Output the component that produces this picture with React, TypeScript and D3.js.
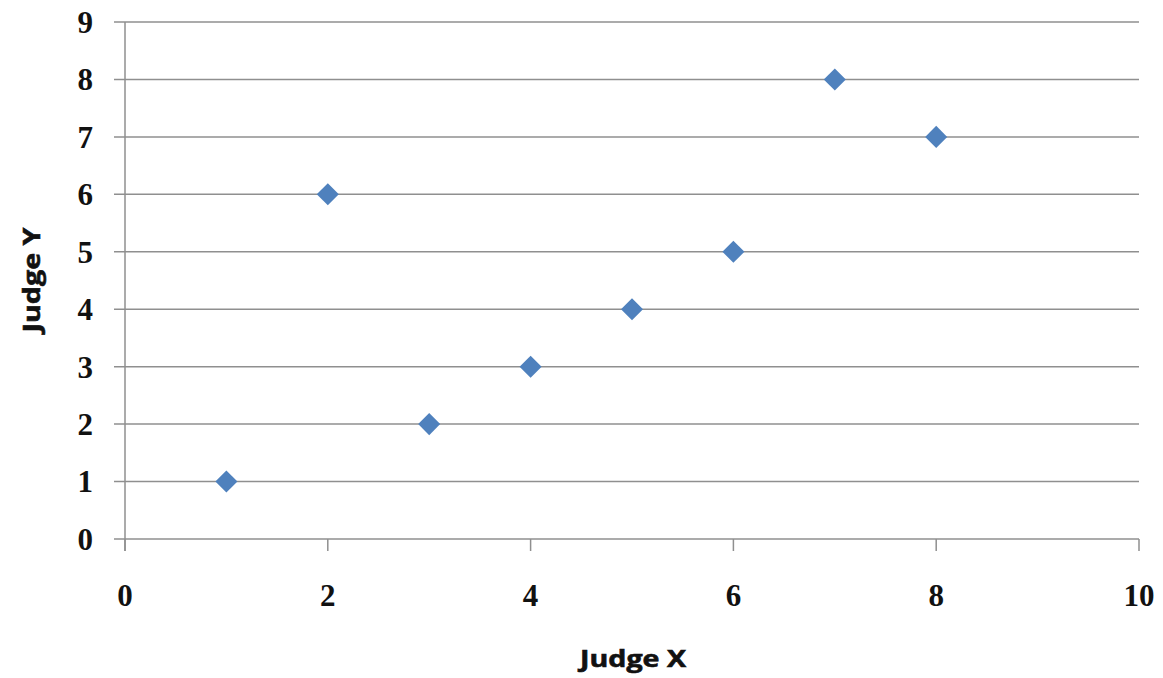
import React from "react";
import * as d3 from "d3";

const judgeX = [1, 2, 3, 4, 5, 6, 7, 8];
const judgeY = [1, 6, 2, 3, 4, 5, 8, 7];
const xTicks = [0, 2, 4, 6, 8, 10];
const yTicks = [0, 1, 2, 3, 4, 5, 6, 7, 8, 9];
const xTitle = "Judge X";
const yTitle = "Judge Y";

const W = 1163;
const H = 678;
const left = 125;
const right = 1139;
const top = 22;
const bottom = 539;

export default function App() {
  const x = d3.scaleLinear().domain([0, 10]).range([left, right]);
  const y = d3.scaleLinear().domain([0, 9]).range([bottom, top]);
  const diamond = d3.symbol().type(d3.symbolDiamond2).size(310)();
  const grid = "#8f8f8f";
  const tickFont = "'Liberation Serif', 'DejaVu Serif', serif";
  const titleFont = "'Open Sans', 'Liberation Sans', sans-serif";
  return (
    <svg
      width={W}
      height={H}
      style={{ position: "absolute", left: 0, top: 0, background: "#fff" }}
    >
      {yTicks.map((t) => (
        <g key={"y" + t}>
          <line
            x1={left - 11}
            x2={right}
            y1={y(t)}
            y2={y(t)}
            stroke={grid}
            strokeWidth={1.5}
          />
          <text
            x={93}
            y={y(t)}
            dy="0.35em"
            textAnchor="end"
            fontFamily={tickFont}
            fontWeight="bold"
            fontSize={31}
            fill="#111"
          >
            {t}
          </text>
        </g>
      ))}
      <line x1={left} x2={left} y1={top} y2={bottom + 12} stroke={grid} strokeWidth={1.5} />
      {xTicks.map((t) => (
        <g key={"x" + t}>
          <line x1={x(t)} x2={x(t)} y1={bottom} y2={bottom + 12} stroke={grid} strokeWidth={1.5} />
          <text
            x={x(t)}
            y={606}
            textAnchor="middle"
            fontFamily={tickFont}
            fontWeight="bold"
            fontSize={31}
            fill="#111"
          >
            {t}
          </text>
        </g>
      ))}
      {judgeX.map((v, i) => (
        <path
          key={"p" + i}
          d={diamond || ""}
          transform={`translate(${x(v)},${y(judgeY[i])})`}
          fill="#4f81bd"
        />
      ))}
      <text
        x={633}
        y={667}
        textAnchor="middle"
        fontFamily={titleFont}
        fontWeight="bold"
        fontSize={23}
        textLength={106}
        lengthAdjust="spacingAndGlyphs"
        fill="#111"
        stroke="#111"
        strokeWidth={0.6}
      >
        {xTitle}
      </text>
      <text
        transform={`translate(40,280) rotate(-90)`}
        textAnchor="middle"
        fontFamily={titleFont}
        fontWeight="bold"
        fontSize={23}
        textLength={105}
        lengthAdjust="spacingAndGlyphs"
        fill="#111"
        stroke="#111"
        strokeWidth={0.6}
      >
        {yTitle}
      </text>
    </svg>
  );
}
